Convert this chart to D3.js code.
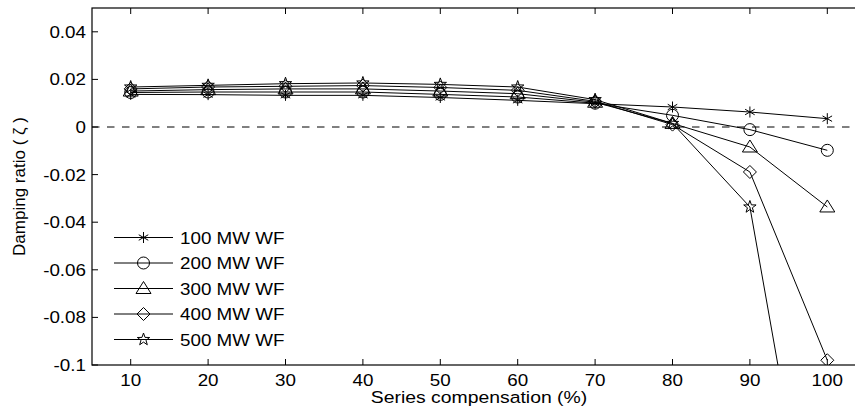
<!DOCTYPE html>
<html>
<head>
<meta charset="utf-8">
<script src="https://cdn.jsdelivr.net/npm/d3@7"></script>
<style>
  html, body { margin: 0; padding: 0; background: #fff; }
  svg { display: block; }
  text { font-family: Arial, "Liberation Sans", Helvetica, sans-serif; fill: #000; }
</style>
</head>
<body>
<svg id="chart" width="855" height="414"></svg>
<script>
// Series compensation levels (%)
const compensation = [10, 20, 30, 40, 50, 60, 70, 80, 90, 100];

// Damping ratio for each wind farm size
const wf100 = [0.0137, 0.0136, 0.0133, 0.0133, 0.0124, 0.0112, 0.0098, 0.0084, 0.0063, 0.0035];
const wf200 = [0.0145, 0.0147, 0.0147, 0.0147, 0.0137, 0.0126, 0.0100, 0.0049, -0.0011, -0.0098];
const wf300 = [0.0151, 0.0157, 0.0160, 0.0160, 0.0151, 0.0140, 0.0104, 0.0015, -0.0084, -0.0336];
const wf400 = [0.0160, 0.0168, 0.0171, 0.0174, 0.0166, 0.0154, 0.0108, 0.0010, -0.0189, -0.0980];
const wf500 = [0.0168, 0.0175, 0.0182, 0.0185, 0.0179, 0.0168, 0.0115, 0.0015, -0.0336, -0.2170];

const seriesNames = ["100 MW WF", "200 MW WF", "300 MW WF", "400 MW WF", "500 MW WF"];
const seriesMarkers = ["asterisk", "circle", "triangle", "diamond", "pentagram"];
const seriesValues = [wf100, wf200, wf300, wf400, wf500];

const xTicks = [10, 20, 30, 40, 50, 60, 70, 80, 90, 100];
const yTicks = [-0.1, -0.08, -0.06, -0.04, -0.02, 0, 0.02, 0.04];
const yTickLabels = ["-0.1", "-0.08", "-0.06", "-0.04", "-0.02", "0", "0.02", "0.04"];

const xTitle = "Series compensation (%)";
const yTitle = "Damping ratio ( ζ )";

const svg = d3.select("#chart");
const W = 855, H = 414;
const plot = { left: 92, top: 8, right: 866, bottom: 365 };
const FS = 16.5, SX = 1.14;

const x = d3.scaleLinear().domain([5, 105]).range([plot.left, plot.right]);
const y = d3.scaleLinear().domain([-0.1, 0.05]).range([plot.bottom, plot.top]);

svg.append("defs").append("clipPath").attr("id", "plotclip")
  .append("rect")
  .attr("x", plot.left).attr("y", plot.top)
  .attr("width", plot.right - plot.left).attr("height", plot.bottom - plot.top);

// Frame
svg.append("rect")
  .attr("x", plot.left).attr("y", plot.top)
  .attr("width", plot.right - plot.left).attr("height", plot.bottom - plot.top)
  .attr("fill", "none").attr("stroke", "#000").attr("stroke-width", 1.2);

const tickLen = 6;
// x ticks (bottom and top, pointing inward)
const axisG = svg.append("g");
xTicks.forEach(t => {
  axisG.append("line").attr("x1", x(t)).attr("x2", x(t))
    .attr("y1", plot.bottom).attr("y2", plot.bottom - tickLen)
    .attr("stroke", "#000").attr("stroke-width", 1);
  axisG.append("line").attr("x1", x(t)).attr("x2", x(t))
    .attr("y1", plot.top).attr("y2", plot.top + tickLen)
    .attr("stroke", "#000").attr("stroke-width", 1);
  axisG.append("text")
    .attr("transform", `translate(${x(t)},386) scale(${SX},1)`)
    .attr("text-anchor", "middle")
    .style("font-size", FS + "px")
    .text(t);
});
// y ticks (left and right)
yTicks.forEach((t, i) => {
  axisG.append("line").attr("x1", plot.left).attr("x2", plot.left + tickLen)
    .attr("y1", y(t)).attr("y2", y(t))
    .attr("stroke", "#000").attr("stroke-width", 1);
  axisG.append("line").attr("x1", plot.right).attr("x2", plot.right - tickLen)
    .attr("y1", y(t)).attr("y2", y(t))
    .attr("stroke", "#000").attr("stroke-width", 1);
  axisG.append("text")
    .attr("transform", `translate(86,${y(t) + 6}) scale(${SX},1)`)
    .attr("text-anchor", "end")
    .style("font-size", FS + "px")
    .text(yTickLabels[i]);
});

// Axis titles
svg.append("text")
  .attr("transform", `translate(${x(55)},403) scale(${SX},1)`)
  .attr("text-anchor", "middle")
  .style("font-size", "17px")
  .text(xTitle);
svg.append("text")
  .attr("transform", `translate(25,${(plot.top + plot.bottom) / 2}) rotate(-90)`)
  .attr("text-anchor", "middle")
  .style("font-size", "17px")
  .text(yTitle);

// Zero reference line
svg.append("line")
  .attr("x1", plot.left).attr("x2", plot.right)
  .attr("y1", y(0)).attr("y2", y(0))
  .attr("stroke", "#000").attr("stroke-width", 1)
  .attr("stroke-dasharray", "7.5,7.5");

// Marker shapes
function markerPath(type) {
  const p = d3.path();
  if (type === "asterisk") {
    const r = 5.5;
    p.moveTo(0, -r); p.lineTo(0, r);
    const a = Math.PI / 6;
    p.moveTo(-r * Math.cos(a), -r * Math.sin(a)); p.lineTo(r * Math.cos(a), r * Math.sin(a));
    p.moveTo(-r * Math.cos(a), r * Math.sin(a)); p.lineTo(r * Math.cos(a), -r * Math.sin(a));
  } else if (type === "circle") {
    p.arc(0, 0, 6, 0, 2 * Math.PI);
  } else if (type === "triangle") {
    p.moveTo(0, -7); p.lineTo(7.5, 5); p.lineTo(-7.5, 5); p.closePath();
  } else if (type === "diamond") {
    p.moveTo(0, -6.5); p.lineTo(6.5, 0); p.lineTo(0, 6.5); p.lineTo(-6.5, 0); p.closePath();
  } else if (type === "pentagram") {
    const R = 6.5, r = 2.6;
    for (let k = 0; k < 10; k++) {
      const ang = -Math.PI / 2 + k * Math.PI / 5;
      const rr = k % 2 === 0 ? R : r;
      const px = rr * Math.cos(ang), py = rr * Math.sin(ang);
      if (k === 0) p.moveTo(px, py); else p.lineTo(px, py);
    }
    p.closePath();
  }
  return p.toString();
}

const line = d3.line().x((d, i) => x(compensation[i])).y(d => y(d));
const dataG = svg.append("g").attr("clip-path", "url(#plotclip)");

seriesValues.forEach((vals, s) => {
  dataG.append("path")
    .attr("d", line(vals))
    .attr("fill", "none").attr("stroke", "#000").attr("stroke-width", 1);
  dataG.selectAll(null).data(vals).enter()
    .append("path")
    .attr("transform", (d, i) => `translate(${x(compensation[i])},${y(d)})`)
    .attr("d", markerPath(seriesMarkers[s]))
    .attr("fill", "none").attr("stroke", "#000").attr("stroke-width", 1);
});

// Legend
const legend = svg.append("g");
seriesNames.forEach((name, s) => {
  const ly = 237.5 + s * 25.5;
  legend.append("line").attr("x1", 114).attr("x2", 173)
    .attr("y1", ly).attr("y2", ly)
    .attr("stroke", "#000").attr("stroke-width", 1);
  legend.append("path")
    .attr("transform", `translate(143.5,${ly})`)
    .attr("d", markerPath(seriesMarkers[s]))
    .attr("fill", "none").attr("stroke", "#000").attr("stroke-width", 1);
  legend.append("text")
    .attr("transform", `translate(180,${ly + 6}) scale(${SX},1)`)
    .style("font-size", FS + "px")
    .text(name);
});
</script>
</body>
</html>
